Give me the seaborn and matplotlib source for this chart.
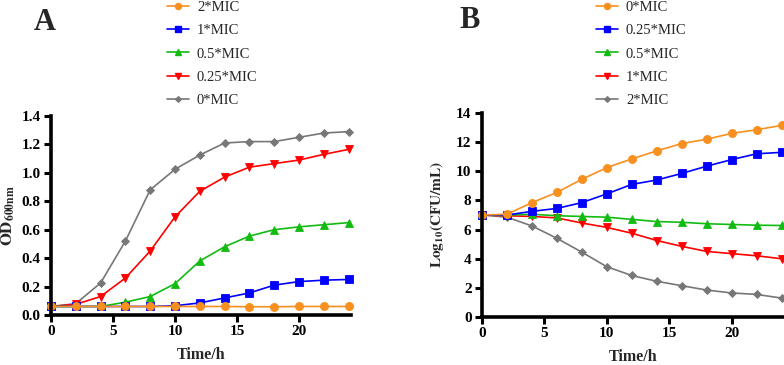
import numpy as np
import pandas as pd
import matplotlib
matplotlib.use("Agg")
import matplotlib.pyplot as plt
import seaborn as sns

time_h = [0, 2, 4, 6, 8, 10, 12, 14, 16, 18, 20, 22, 24]

# Panel A: OD600nm
a_labels = ["2*MIC", "1*MIC", "0.5*MIC", "0.25*MIC", "0*MIC"]
a_2mic = [0.06, 0.06, 0.06, 0.06, 0.06, 0.06, 0.06, 0.06, 0.058, 0.058, 0.06, 0.06, 0.06]
a_1mic = [0.06, 0.06, 0.06, 0.06, 0.06, 0.065, 0.085, 0.12, 0.155, 0.21, 0.235, 0.245, 0.25]
a_05mic = [0.06, 0.06, 0.06, 0.09, 0.13, 0.22, 0.38, 0.48, 0.555, 0.60, 0.62, 0.635, 0.65]
a_025mic = [0.06, 0.075, 0.13, 0.26, 0.45, 0.69, 0.87, 0.97, 1.04, 1.065, 1.09, 1.13, 1.165]
a_0mic = [0.06, 0.08, 0.225, 0.52, 0.88, 1.025, 1.125, 1.21, 1.22, 1.22, 1.25, 1.28, 1.29]

# Panel B: Log10(CFU/mL)
b_labels = ["0*MIC", "0.25*MIC", "0.5*MIC", "1*MIC", "2*MIC"]
b_0mic = [7.0, 7.05, 7.85, 8.55, 9.45, 10.25, 10.85, 11.4, 11.9, 12.2, 12.6, 12.85, 13.15]
b_025mic = [7.0, 7.0, 7.25, 7.45, 7.85, 8.45, 9.1, 9.4, 9.85, 10.35, 10.8, 11.2, 11.3]
b_05mic = [7.0, 7.0, 7.05, 6.95, 6.9, 6.85, 6.7, 6.55, 6.5, 6.4, 6.35, 6.3, 6.28]
b_1mic = [7.0, 6.95, 6.9, 6.8, 6.45, 6.15, 5.75, 5.25, 4.85, 4.5, 4.35, 4.2, 4.0]
b_2mic = [7.0, 6.85, 6.25, 5.4, 4.45, 3.45, 2.85, 2.45, 2.15, 1.85, 1.65, 1.55, 1.3]

colors = ["#F7901E", "#0000FF", "#11BB11", "#FF0000", "#777777"]
markers = ["o", "s", "^", "v", "D"]
msizes = [5.8, 5.8, 5.8, 6.0, 3.8]

sns.set_theme(style="ticks")
plt.rcParams["font.family"] = ["Liberation Serif", "DejaVu Serif"]
plt.rcParams["font.weight"] = "bold"
plt.rcParams["mathtext.fontset"] = "stix"

fig = plt.figure(figsize=(7.84, 3.65), dpi=100)
axA = fig.add_axes([51/784, 1-315/365, 300/784, 199/365])
axB = fig.add_axes([482/784, 1-317/365, 302/784, 204/365])

def draw(ax, series, labels):
    for i in reversed(range(len(series))):
        df = pd.DataFrame({"t": time_h, "v": series[i]})
        sns.lineplot(data=df, x="t", y="v", ax=ax, color=colors[i], marker=markers[i],
                     markersize=msizes[i], markeredgewidth=0.6, markeredgecolor=colors[i],
                     linewidth=1.2, clip_on=False, label=labels[i], legend=False)
    hs = []
    for i in range(len(series)):
        h, = ax.plot([], [], color=colors[i], marker=markers[i], markersize=msizes[i]*0.75,
                     linewidth=1.2, markeredgecolor=colors[i])
        hs.append(h)
    return hs

hA = draw(axA, [a_2mic, a_1mic, a_05mic, a_025mic, a_0mic], a_labels)
hB = draw(axB, [b_0mic, b_025mic, b_05mic, b_1mic, b_2mic], b_labels)

for ax in (axA, axB):
    ax.set_xlim(0, 24.2)
    ax.set_xticks([0, 5, 10, 15, 20])
    for s in ("top", "right"):
        ax.spines[s].set_visible(False)
    for s in ("left", "bottom"):
        ax.spines[s].set_linewidth(2.6)
        ax.spines[s].set_color("black")
    ax.tick_params(axis="both", direction="out", length=5, width=2.2, labelsize=11,
                   pad=2.5, colors="black")
    for lab in ax.get_xticklabels() + ax.get_yticklabels():
        lab.set_fontweight("bold")
    ax.set_xlabel("Time/h", fontsize=11.5, fontweight="bold", labelpad=6.5)

axA.set_ylim(0, 1.4)
axA.set_yticks(np.arange(0, 1.41, 0.2))
axA.set_yticklabels([f"{v:.1f}" for v in np.arange(0, 1.41, 0.2)], fontweight="bold")
axA.set_ylabel(r"$\mathbf{OD_{600nm}}$", fontsize=12, labelpad=3)

axB.set_ylim(0, 14)
axB.set_yticks(range(0, 15, 2))
axB.set_yticklabels([str(v) for v in range(0, 15, 2)], fontweight="bold")
axB.set_ylabel(r"$\mathbf{Log_{10}(CFU/mL)}$", fontsize=11, labelpad=7)

legkw = dict(loc="upper left", frameon=False, handlelength=1.5, handletextpad=0.55,
             labelspacing=0.7, borderaxespad=0, borderpad=0,
             prop={"family": "Liberation Serif", "weight": "normal", "size": 10.5})
fig.legend(hA, a_labels, bbox_to_anchor=(167/784, 1-(0.5)/365), **legkw)
fig.legend(hB, b_labels, bbox_to_anchor=(596/784, 1-(0.5)/365), **legkw)

fig.text(45/784, 1-23/365, "A", fontsize=22, fontweight="bold", ha="center", va="center")
fig.text(470/784, 1-21/365, "B", fontsize=22, fontweight="bold", ha="center", va="center")

fig.savefig("out.png", dpi=100)
